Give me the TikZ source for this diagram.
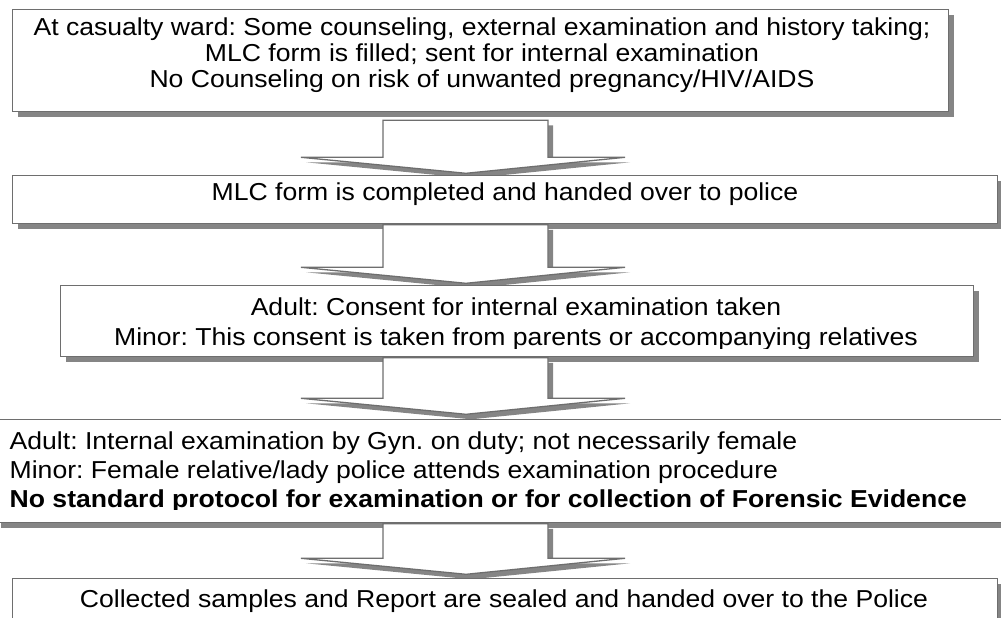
\documentclass[tikz,border=0pt]{standalone}
\usepackage{fontspec}
\setmainfont{Liberation Sans}
\usepackage{graphicx}
\usetikzlibrary{shadows,calc}
\definecolor{edge}{HTML}{6E6E6E}
\definecolor{shade}{HTML}{858585}
\tikzset{
  box/.style={draw=edge, line width=1.3pt, fill=white, rectangle, inner sep=0pt, anchor=north west,
    general shadow={fill=shade, shadow xshift=5pt, shadow yshift=-5pt}},
  txt/.style={inner sep=0pt, anchor=base, font=\frenchspacing\fontsize{24.5}{24.5}\selectfont, text=black},
  txtl/.style={txt, anchor=base west},
  blockarrow/.style={draw=edge, line width=1.3pt, fill=white, line join=miter,
    general shadow={fill=shade, shadow xshift=5pt, shadow yshift=-5pt}},
}
\newcommand{\wide}[1]{\scalebox{1.085}[1]{#1}}
\newcommand{\barrow}[2]{%
  \path (#1) coordinate (atop) (#2) coordinate (atip);
  \draw[blockarrow] let \p1=(atop), \p2=(atip) in
    (\x1-83pt,\y1) -- (\x1+82pt,\y1) -- (\x1+82pt,\y2+16pt) -- (\x1+159pt,\y2+16pt)
    -- (\x2,\y2) -- (\x1-165pt,\y2+16pt) -- (\x1-83pt,\y2+16pt) -- cycle;}
\begin{document}
\frenchspacing
\begin{tikzpicture}[x=1pt,y=-1pt]
\useasboundingbox (0,0) rectangle (1001,618);
\clip (0,0) rectangle (1001,618);
\coordinate (ax) at (466,0);

% box 1
\node[box, minimum width=936pt, minimum height=102pt] (b1) at (12,9) {};
\node[txt] (t1a) at (482,36) {\wide{At casualty ward: Some counseling, external examination and history taking;}};
\node[txt] (t1b) at (482,61.5) {\wide{MLC form is filled; sent for internal examination}};
\node[txt] (t1c) at (482,87) {\wide{No Counseling on risk of unwanted pregnancy/HIV/AIDS}};

\barrow{$(ax|-b1.south)+(0,8)$}{$(ax|-b1.south)+(0,61)$}

% box 2
\node[box, minimum width=985pt, minimum height=48pt] (b2) at (12,175) {};
\node[txt] (t2) at (505,200) {\wide{MLC form is completed and handed over to police}};

\barrow{$(ax|-b2.south)+(0,0.5)$}{$(ax|-b2.south)+(0,59)$}

% box 3
\node[box, minimum width=913pt, minimum height=71pt] (b3) at (60,285) {};
\begin{scope}
\clip (60,285) rectangle (973,348.5);
\node[txt] (t3a) at (516,315) {\wide{Adult: Consent for internal examination taken}};
\node[txt] (t3b) at (516,345) {\wide{Minor: This consent is taken from parents or accompanying relatives}};
\end{scope}

\barrow{$(ax|-b3.south)+(0,0.5)$}{$(ax|-b3.south)+(0,57)$}

% box 4
\node[box, minimum width=1015pt, minimum height=103pt] (b4) at (-5,419) {};
\begin{scope}
\clip (0,419) rectangle (1001,509);
\node[txtl] (t4a) at (9.5,449) {\wide{Adult: Internal examination by Gyn. on duty; not necessarily female}};
\node[txtl] (t4b) at (9.5,478) {\wide{Minor: Female relative/lady police attends examination procedure}};
\node[txtl] (t4c) at (9.5,507) {\wide{\bfseries No standard protocol for examination or for collection of Forensic Evidence}};
\end{scope}

\barrow{$(ax|-b4.south)+(0,0.5)$}{$(ax|-b4.south)+(0,51)$}

% box 5
\node[box, minimum width=985pt, minimum height=72pt] (b5) at (12,578) {};
\node[txt] (t5) at (504,607) {\wide{Collected samples and Report are sealed and handed over to the Police}};
\end{tikzpicture}
\end{document}
